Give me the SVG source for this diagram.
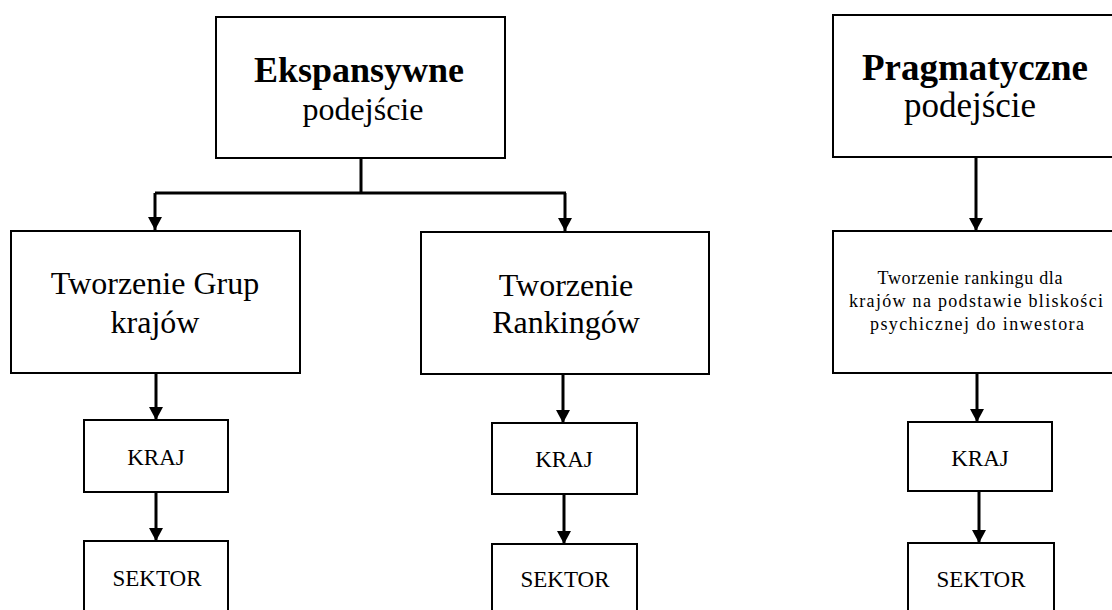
<svg xmlns="http://www.w3.org/2000/svg" width="1112" height="610" viewBox="0 0 1112 610">
<style>
.box{fill:#fff;stroke:#000;stroke-width:2}
.t{font-family:"Liberation Serif","Times New Roman",serif;fill:#000;text-anchor:middle}
.b{font-weight:bold}
.ln{fill:none;stroke:#000;stroke-width:3}
</style>
<defs>
<marker id="ah" markerUnits="userSpaceOnUse" markerWidth="14" markerHeight="14" refX="13" refY="7" orient="auto" viewBox="0 0 14 14">
<path d="M0,0 L13,7 L0,14 Z" fill="#000"/>
</marker>
</defs>
<rect width="1112" height="610" fill="#fff"/>
<g id="connectors">
<path class="ln" d="M361,158 V193 M155,193 H566" />
<path class="ln" d="M155,193 V230" marker-end="url(#ah)"/>
<path class="ln" d="M565,193 V231" marker-end="url(#ah)"/>
<path class="ln" d="M156,373 V420" marker-end="url(#ah)"/>
<path class="ln" d="M156,492 V541" marker-end="url(#ah)"/>
<path class="ln" d="M563,374 V423" marker-end="url(#ah)"/>
<path class="ln" d="M564,494 V544" marker-end="url(#ah)"/>
<path class="ln" d="M976,157 V231" marker-end="url(#ah)"/>
<path class="ln" d="M977,373 V422" marker-end="url(#ah)"/>
<path class="ln" d="M979,489 V543" marker-end="url(#ah)"/>
</g>
<g id="ekspansywne">
<rect class="box" x="216" y="17" width="289" height="141"/>
<text class="t b" x="359" y="82" font-size="36">Ekspansywne</text>
<text class="t" x="363" y="120" font-size="32">podejście</text>
</g>
<g id="grupy">
<rect class="box" x="11" y="231" width="289" height="142"/>
<text class="t" x="155" y="294" font-size="32">Tworzenie Grup</text>
<text class="t" x="155" y="333" font-size="32">krajów</text>
</g>
<g id="rankingi">
<rect class="box" x="421" y="232" width="288" height="142"/>
<text class="t" x="566" y="296" font-size="32">Tworzenie</text>
<text class="t" x="566" y="333" font-size="32">Rankingów</text>
</g>
<g id="kraj1">
<rect class="box" x="84" y="420" width="144" height="72"/>
<text class="t" x="156" y="465" font-size="23">KRAJ</text>
</g>
<g id="sektor1">
<rect class="box" x="84" y="541" width="144" height="80"/>
<text class="t" x="157" y="586" font-size="23">SEKTOR</text>
</g>
<g id="kraj2">
<rect class="box" x="492" y="423" width="145" height="71"/>
<text class="t" x="564" y="467" font-size="23">KRAJ</text>
</g>
<g id="sektor2">
<rect class="box" x="492" y="544" width="145" height="80"/>
<text class="t" x="565" y="587" font-size="23">SEKTOR</text>
</g>
<g id="pragmatyczne">
<rect class="box" x="833" y="15" width="290" height="142"/>
<text class="t b" x="975" y="80" font-size="37">Pragmatyczne</text>
<text class="t" x="970" y="117" font-size="35">podejście</text>
</g>
<g id="ranking-bliskosc">
<rect class="box" x="833" y="231" width="290" height="142"/>
<text class="t" x="970" y="284" font-size="18" textLength="185" lengthAdjust="spacing">Tworzenie rankingu  dla</text>
<text class="t" x="976" y="307" font-size="18" textLength="254" lengthAdjust="spacing">krajów na podstawie bliskości</text>
<text class="t" x="977" y="330" font-size="18" textLength="214" lengthAdjust="spacing">psychicznej do inwestora</text>
</g>
<g id="kraj3">
<rect class="box" x="908" y="422" width="144" height="69"/>
<text class="t" x="980" y="466" font-size="23">KRAJ</text>
</g>
<g id="sektor3">
<rect class="box" x="908" y="543" width="146" height="80"/>
<text class="t" x="981" y="587" font-size="23">SEKTOR</text>
</g>
</svg>
